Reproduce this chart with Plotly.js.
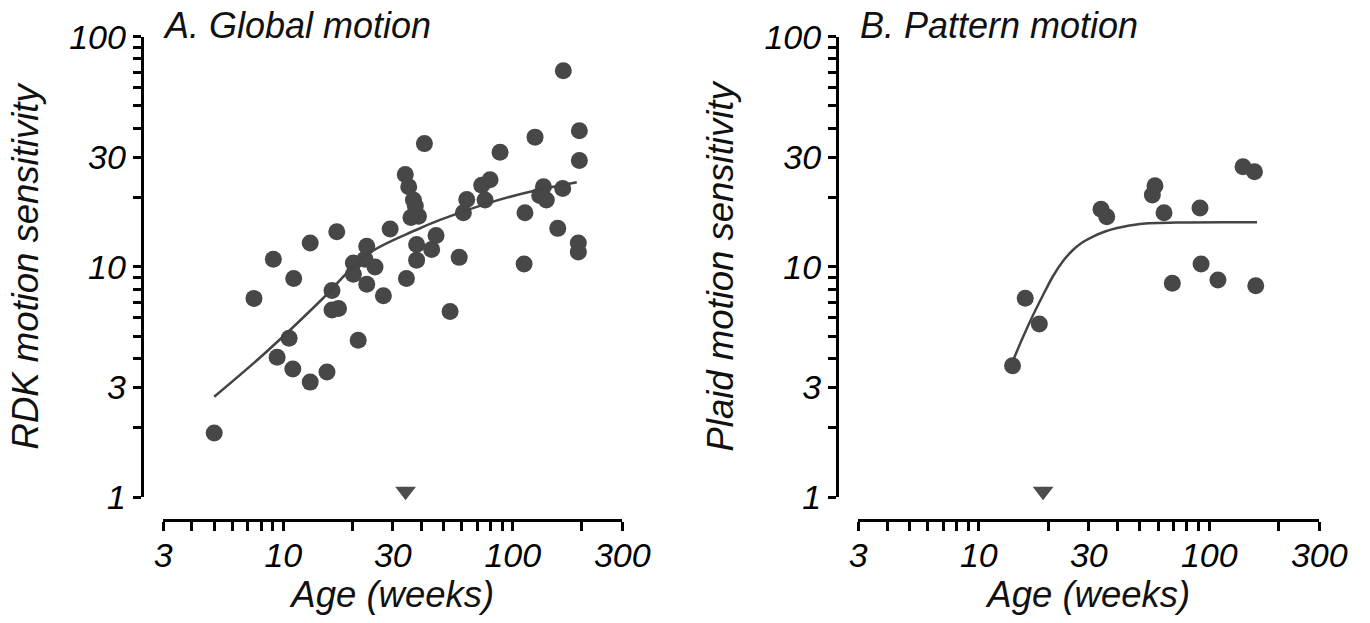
<!DOCTYPE html>
<html>
<head>
<meta charset="utf-8">
<script src="https://cdn.plot.ly/plotly-3.0.1.min.js"></script>
<style>html,body{margin:0;padding:0;background:#fff;}#chart{width:1370px;height:623px;}</style>
</head>
<body>
<div id="chart"></div>
<script>
// Panel A: global motion (RDK)
const ageA = [166, 195, 125, 41.2, 195, 88, 34.0, 35.2, 36.9, 37.6, 36.0, 38.8, 29.2, 46.3, 63.0, 60.9, 73.2, 79.6, 75.7, 38.1, 44.3, 38.1, 58.4, 23.1, 20.2, 22.7, 25.1, 20.2, 23.1, 27.3, 34.4, 17.1, 13.1, 16.3, 16.3, 17.4, 21.2, 7.45, 9.05, 11.1, 10.6, 9.4, 11.0, 13.1, 15.5, 5.0, 136, 131, 140, 165, 113, 157, 193, 193, 112, 53.3];
const rdkA = [71, 39, 36.6, 34.3, 29, 31.5, 25.2, 22.3, 19.5, 18.4, 16.4, 16.6, 14.6, 13.7, 19.6, 17.2, 22.6, 23.9, 19.5, 12.5, 11.9, 10.7, 11.0, 12.3, 10.4, 10.8, 10.0, 9.3, 8.4, 7.5, 8.9, 14.2, 12.7, 7.9, 6.5, 6.6, 4.8, 7.3, 10.8, 8.9, 4.9, 4.05, 3.6, 3.16, 3.5, 1.9, 22.3, 20.4, 19.5, 21.9, 17.2, 14.7, 12.7, 11.6, 10.3, 6.4];
const fitAgeA = [5.0, 7.7, 10.7, 14.9, 23.1, 38.1, 48.2, 82, 119, 190];
const fitA = [2.73, 3.94, 5.32, 7.31, 11.3, 14.5, 16.0, 19.2, 21.2, 23.3];
const arrowAgeA = [34.1];

// Panel B: pattern motion (plaid)
const ageB = [14.0, 15.9, 18.3, 33.9, 35.9, 58.1, 56.6, 63.6, 91.1, 140, 157, 92.1, 69.1, 109, 159];
const plaidB = [3.72, 7.31, 5.65, 17.8, 16.5, 22.5, 20.5, 17.2, 18.0, 27.2, 25.9, 10.3, 8.49, 8.77, 8.29];
const fitAgeB = [14.1, 15.55, 17.2, 19.0, 21.0, 23.2, 25.6, 28.3, 31.3, 35.3, 39.8, 50.0, 74.6, 161];
const fitB = [3.94, 4.96, 6.18, 7.55, 9.13, 10.6, 11.84, 12.83, 13.55, 14.25, 14.75, 15.36, 15.59, 15.62];
const arrowAgeB = [19.0];
const arrowLevel = [1.06];

// Ticks
const xTickVals = [3, 4, 5, 6, 7, 8, 9, 10, 20, 30, 40, 50, 60, 70, 80, 90, 100, 200, 300];
const xTickText = ['3', '', '', '', '', '', '', '10', '', '30', '', '', '', '', '', '', '100', '', '300'];
const yTickVals = [1, 2, 3, 4, 5, 6, 7, 8, 9, 10, 20, 30, 40, 50, 60, 70, 80, 90, 100];
const yTickText = ['1', '', '3', '', '', '', '', '', '', '10', '', '30', '', '', '', '', '', '', '100'];

const W = 1370, H = 623;
const dotColor = '#474747';
const fam = '"Liberation Sans", Arial, Helvetica, sans-serif';

const traces = [
  {x: ageA, y: rdkA, xaxis: 'x', yaxis: 'y', mode: 'markers', type: 'scatter',
   marker: {size: 17, color: dotColor, line: {width: 0}}},
  {x: fitAgeA, y: fitA, xaxis: 'x', yaxis: 'y', mode: 'lines', type: 'scatter',
   line: {color: '#444', width: 2.5, shape: 'spline'}},
  {x: arrowAgeA, y: arrowLevel, xaxis: 'x', yaxis: 'y', mode: 'markers', type: 'scatter', cliponaxis: false,
   marker: {symbol: 'triangle-down', size: 18, color: '#4d4d4d', line: {width: 0}}},
  {x: ageB, y: plaidB, xaxis: 'x2', yaxis: 'y2', mode: 'markers', type: 'scatter',
   marker: {size: 17, color: dotColor, line: {width: 0}}},
  {x: fitAgeB, y: fitB, xaxis: 'x2', yaxis: 'y2', mode: 'lines', type: 'scatter',
   line: {color: '#444', width: 2.5, shape: 'spline', smoothing: 0.8}},
  {x: arrowAgeB, y: arrowLevel, xaxis: 'x2', yaxis: 'y2', mode: 'markers', type: 'scatter', cliponaxis: false,
   marker: {symbol: 'triangle-down', size: 18, color: '#4d4d4d', line: {width: 0}}}
];

const tickFont = {family: fam, size: 34, color: '#000', style: 'italic'};
const titleFont = {family: fam, size: 36.5, color: '#111', style: 'italic'};

function xAxis(d0, d1, pos) {
  return {type: 'log', range: [Math.log10(3), Math.log10(300)], domain: [d0 / W, d1 / W],
    anchor: 'free', position: pos,
    showline: true, linewidth: 3, linecolor: '#000', showgrid: false, zeroline: false,
    ticks: 'outside', ticklen: 9, tickwidth: 3, tickcolor: '#000', ticklabelstandoff: -5,
    tickmode: 'array', tickvals: xTickVals, ticktext: xTickText, tickfont: tickFont,
    title: {text: 'Age (weeks)', font: titleFont, standoff: 2}, fixedrange: true};
}
function yAxis(xpos, label) {
  return {type: 'log', range: [0, 2], domain: [1 - 497.2 / H, 1 - 36.6 / H],
    anchor: 'free', position: xpos / W,
    showline: true, linewidth: 3, linecolor: '#000', showgrid: false, zeroline: false,
    ticks: 'outside', ticklen: 8, tickwidth: 3, tickcolor: '#000',
    tickmode: 'array', tickvals: yTickVals, ticktext: yTickText, tickfont: tickFont,
    title: {text: label, font: titleFont, standoff: 18}, fixedrange: true};
}

const xPos = 1 - 520 / H;
const layout = {
  width: W, height: H, margin: {l: 0, r: 0, t: 0, b: 0},
  paper_bgcolor: '#fff', plot_bgcolor: 'rgba(0,0,0,0)', showlegend: false,
  xaxis: xAxis(163.3, 622.3, xPos),
  xaxis2: xAxis(858.3, 1319.3, xPos),
  yaxis: yAxis(141.7, 'RDK motion sensitivity'),
  yaxis2: yAxis(837, 'Plaid motion sensitivity'),
  annotations: [
    {text: 'A. Global motion', xref: 'paper', yref: 'paper', x: 161 / W, y: 1 - 25 / H,
     xanchor: 'left', yanchor: 'middle', showarrow: false, font: {family: fam, size: 36, color: '#111', style: 'italic'}},
    {text: 'B. Pattern motion', xref: 'paper', yref: 'paper', x: 858 / W, y: 1 - 25 / H,
     xanchor: 'left', yanchor: 'middle', showarrow: false, font: {family: fam, size: 36, color: '#111', style: 'italic'}}
  ]
};

Plotly.newPlot('chart', traces, layout, {staticPlot: true, displayModeBar: false});
</script>
</body>
</html>
